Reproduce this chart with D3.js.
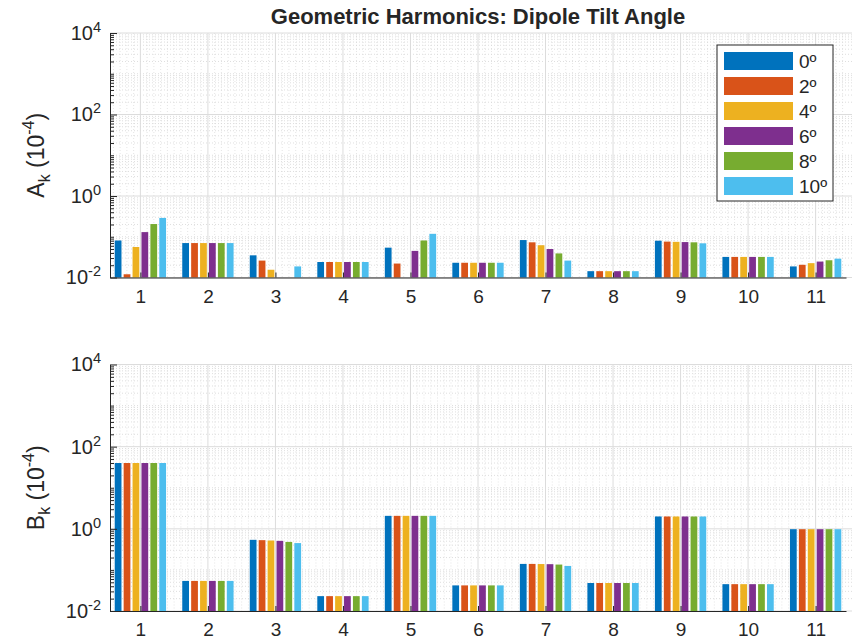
<!DOCTYPE html>
<html>
  <head>
    <meta charset="utf-8">
    <title>Geometric Harmonics: Dipole Tilt Angle</title>
    <script src="https://d3js.org/d3.v7.min.js"></script>
    <style>
      body { margin: 0; background: #fff; }
      text { font-family: Arial, "Liberation Sans", Helvetica, sans-serif; fill: #262626; }
    </style>
  </head>
  <body>
    <script>

      // harmonic order on the x axis
      var harmonics = [1, 2, 3, 4, 5, 6, 7, 8, 9, 10, 11];
      var tiltAngles = ["0º", "2º", "4º", "6º", "8º", "10º"];
      var colors = ["#0072BD", "#D95319", "#EDB120", "#7E2F8E", "#77AC30", "#4DBEEE"];

      // A_k (10^-4), one array per tilt angle
      var ak0  = [0.081, 0.070, 0.035, 0.024, 0.054, 0.023, 0.083, 0.0143, 0.080, 0.032, 0.0187];
      var ak2  = [0.012, 0.070, 0.026, 0.024, 0.022, 0.023, 0.073, 0.0143, 0.076, 0.032, 0.0205];
      var ak4  = [0.056, 0.070, 0.0155, 0.024, 0.009, 0.023, 0.062, 0.0143, 0.075, 0.032, 0.0225];
      var ak6  = [0.130, 0.070, 0.009, 0.024, 0.045, 0.023, 0.050, 0.0143, 0.074, 0.032, 0.0246];
      var ak8  = [0.205, 0.070, 0.009, 0.024, 0.081, 0.023, 0.039, 0.0143, 0.073, 0.032, 0.0265];
      var ak10 = [0.290, 0.070, 0.0187, 0.024, 0.118, 0.023, 0.026, 0.0143, 0.069, 0.032, 0.029];

      // B_k (10^-4)
      var bk0  = [40, 0.054, 0.54, 0.023, 2.07, 0.042, 0.140, 0.048, 2.0, 0.045, 0.98];
      var bk2  = [40, 0.054, 0.53, 0.023, 2.07, 0.042, 0.140, 0.048, 2.0, 0.045, 0.98];
      var bk4  = [40, 0.054, 0.52, 0.023, 2.07, 0.042, 0.139, 0.048, 2.0, 0.045, 0.98];
      var bk6  = [40, 0.054, 0.51, 0.023, 2.07, 0.042, 0.138, 0.048, 2.0, 0.045, 0.98];
      var bk8  = [40, 0.054, 0.48, 0.023, 2.07, 0.042, 0.135, 0.048, 2.0, 0.045, 0.98];
      var bk10 = [40, 0.054, 0.45, 0.023, 2.07, 0.042, 0.125, 0.048, 2.0, 0.045, 0.98];

      var majorTicks = [1e-2, 1e0, 1e2, 1e4];
      var tickExponents = ["-2", "0", "2", "4"];

      var akSeries = [ak0, ak2, ak4, ak6, ak8, ak10];
      var bkSeries = [bk0, bk2, bk4, bk6, bk8, bk10];

      var W = 852, H = 641;
      var svg = d3.select("body").append("svg")
                  .attr("width", W)
                  .attr("height", H);

      var x = d3.scaleLinear().domain([0.55, 11.45]).range([110, 846]);
      var barStep = 0.132, barWidth = 0.1;

      // minor log ticks: 2..9 x 10^k plus the odd decades
      var minorTicks = [];
      for (var e = -2; e < 4; e++) {
        for (var m = 2; m <= 10; m++) minorTicks.push(m * Math.pow(10, e));
      }
      minorTicks = minorTicks.filter(function(v) {
        return !majorTicks.some(function(t) { return Math.abs(t - v) / t < 1e-9; });
      });
      var minorX = d3.range(6, 115).map(function(i) { return i / 10; })
                     .filter(function(v) { return Math.abs(v - Math.round(v)) > 1e-6; });

      function drawPanel(top, bottom, series, letter) {
        var y = d3.scaleLog().domain([1e-2, 1e4]).range([bottom, top]);
        var g = svg.append("g");

        // minor grid
        g.append("g").selectAll("line").data(minorX).enter().append("line")
          .attr("x1", function(d) { return x(d); }).attr("x2", function(d) { return x(d); })
          .attr("y1", top).attr("y2", bottom)
          .attr("stroke", "#dedede").attr("stroke-width", 0.8)
          .attr("stroke-dasharray", "1,2");
        g.append("g").selectAll("line").data(minorTicks).enter().append("line")
          .attr("x1", x.range()[0]).attr("x2", W)
          .attr("y1", function(d) { return y(d); }).attr("y2", function(d) { return y(d); })
          .attr("stroke", "#d6d6d6").attr("stroke-width", 0.8)
          .attr("stroke-dasharray", "1,2");

        // major grid
        g.append("g").selectAll("line").data(harmonics).enter().append("line")
          .attr("x1", function(d) { return x(d); }).attr("x2", function(d) { return x(d); })
          .attr("y1", top).attr("y2", bottom)
          .attr("stroke", "#dcdcdc").attr("stroke-width", 1);
        g.append("g").selectAll("line").data(majorTicks).enter().append("line")
          .attr("x1", x.range()[0]).attr("x2", W)
          .attr("y1", function(d) { return y(d); }).attr("y2", function(d) { return y(d); })
          .attr("stroke", "#dcdcdc").attr("stroke-width", 1);

        // bars
        series.forEach(function(vals, j) {
          g.append("g").attr("fill", colors[j])
            .selectAll("rect").data(vals).enter().append("rect")
            .attr("x", function(d, i) { return x(harmonics[i] + (j - 2.5) * barStep - barWidth / 2); })
            .attr("width", x(barWidth) - x(0))
            .attr("y", function(d) { return d > 1e-2 ? y(d) : bottom; })
            .attr("height", function(d) { return d > 1e-2 ? bottom - y(d) : 0; });
        });

        // axes
        var yMinor = g.append("g").attr("transform", "translate(" + x.range()[0] + ",0)")
          .call(d3.axisLeft(y).tickValues(minorTicks).tickSize(-4).tickSizeOuter(0).tickFormat(""));
        yMinor.select(".domain").remove();
        yMinor.selectAll("line").attr("stroke", "#262626");

        var yAxis = g.append("g").attr("transform", "translate(" + x.range()[0] + ",0)")
          .call(d3.axisLeft(y).tickValues(majorTicks).tickSize(-7).tickSizeOuter(0).tickPadding(9));
        yAxis.select(".domain").attr("stroke", "#262626");
        yAxis.selectAll("line").attr("stroke", "#262626");
        yAxis.selectAll(".tick text").text(null)
          .attr("font-size", 20).attr("font-family", null).attr("fill", "#262626")
          .each(function(d, i) {
            var t = d3.select(this);
            t.append("tspan").text("10");
            t.append("tspan").attr("font-size", 14.5).attr("dy", "-0.55em").text(tickExponents[i]);
          });

        var xAxis = g.append("g").attr("transform", "translate(0," + bottom + ")")
          .call(d3.axisBottom(x).tickValues(harmonics).tickSize(-5).tickSizeOuter(0).tickPadding(12));
        xAxis.select(".domain").attr("stroke", "#262626");
        xAxis.selectAll("line").attr("stroke", "#262626");
        xAxis.selectAll(".tick text").attr("font-size", 19).attr("font-family", null).attr("fill", "#262626");

        // y label
        var lab = g.append("text")
          .attr("transform", "translate(44," + ((top + bottom) / 2) + ") rotate(-90)")
          .attr("text-anchor", "middle")
          .attr("font-size", 23);
        lab.append("tspan").text(letter);
        lab.append("tspan").attr("font-size", 16).attr("dy", "0.4em").text("k");
        lab.append("tspan").attr("dy", "-0.3em").text(" (10");
        lab.append("tspan").attr("font-size", 16).attr("dy", "-0.6em").text("-4");
        lab.append("tspan").attr("dy", "0.45em").text(")");
      }

      drawPanel(33, 277.5, akSeries, "A");
      drawPanel(364.5, 611, bkSeries, "B");

      // title
      svg.append("text")
        .attr("x", (x.range()[0] + x.range()[1]) / 2)
        .attr("y", 24)
        .attr("text-anchor", "middle")
        .attr("font-size", 22)
        .attr("font-weight", "bold")
        .text("Geometric Harmonics: Dipole Tilt Angle");

      // legend
      var legend = svg.append("g").attr("transform", "translate(717,45)");
      legend.append("rect")
        .attr("width", 116).attr("height", 156)
        .attr("fill", "#fff").attr("stroke", "#262626").attr("stroke-width", 1);
      var items = legend.selectAll("g.item").data(tiltAngles).enter().append("g")
        .attr("transform", function(d, i) { return "translate(7," + (7 + i * 25) + ")"; });
      items.append("rect")
        .attr("width", 69).attr("height", 18)
        .attr("fill", function(d, i) { return colors[i]; });
      items.append("text")
        .attr("x", 75).attr("y", 9).attr("dy", "0.35em")
        .attr("font-size", 19)
        .text(function(d) { return d; });

    </script>
  </body>
</html>
